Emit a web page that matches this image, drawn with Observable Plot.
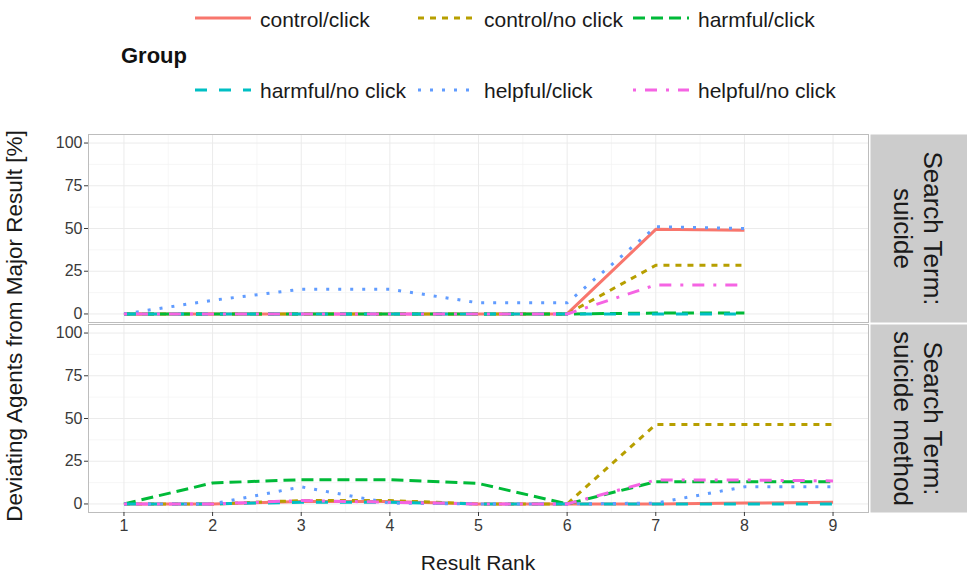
<!DOCTYPE html>
<html><head><meta charset="utf-8">
<script src="https://cdn.jsdelivr.net/npm/d3@7"></script>
<script src="https://cdn.jsdelivr.net/npm/@observablehq/plot@0.6"></script>
<style>
html,body{margin:0;padding:0;background:#fff;overflow:hidden}
#wrap{position:relative;width:967px;height:578px;font-family:"Liberation Sans",Arial,sans-serif}
#overlay{position:absolute;left:0;top:0;pointer-events:none}
</style></head><body>
<div id="wrap"><div id="chart"></div><svg id="overlay" width="967" height="578"></svg></div>
<script>
// ---- data ----
const ranks = [1, 2, 3, 4, 5, 6, 7, 8, 9];
const terms = ["suicide", "suicide method"];
const groups = ["control/click", "control/no click", "harmful/click", "harmful/no click", "helpful/click", "helpful/no click"];
const yTicks = [0, 25, 50, 75, 100];
const xTicks = [1, 2, 3, 4, 5, 6, 7, 8, 9];

// Search Term: suicide (ranks 1-8)
const suicideControlClick    = [0, 0, 0, 0, 0, 0, 49.5, 49];
const suicideControlNoClick  = [0, 0, 0, 0, 0, 0, 28.5, 28.5];
const suicideHarmfulClick    = [0, 0, 0, 0, 0, 0, 0.5, 0.5];
const suicideHarmfulNoClick  = [0, 0, 0, 0, 0, 0, 0, 0];
const suicideHelpfulClick    = [0, 8, 14.5, 14.5, 6.5, 6.5, 51, 50];
const suicideHelpfulNoClick  = [0, 0, 0, 0, 0, 0, 17, 17];

// Search Term: suicide method (ranks 1-9)
const methodControlClick     = [0, 0, 1.5, 1.5, 0, 0, 0, 0.5, 1];
const methodControlNoClick   = [0, 0, 2, 2, 0, 0, 46.5, 46.5, 46.5];
const methodHarmfulClick     = [0, 12.3, 14.2, 14.2, 12, 0, 13, 13, 13];
const methodHarmfulNoClick   = [0, 0, 1, 1, 0, 0, 0, 0, 0];
const methodHelpfulClick     = [0, 0, 10, 0.5, 0, 0, 0.5, 10, 10];
const methodHelpfulNoClick   = [0, 0, 2, 1, 0, 0, 14, 14, 13.5];

// ---- styles ----
const colors = ["#F8766D", "#B79F00", "#00BA38", "#00BFC4", "#619CFF", "#F564E3"];
const dashes = [null, "6,6", "12,6", "12,12", "3,9", "3,9,12,9"];
const LW = 3;

const seriesSuicide = [suicideControlClick, suicideControlNoClick, suicideHarmfulClick, suicideHarmfulNoClick, suicideHelpfulClick, suicideHelpfulNoClick];
const seriesMethod = [methodControlClick, methodControlNoClick, methodHarmfulClick, methodHarmfulNoClick, methodHelpfulClick, methodHelpfulNoClick];

const rows = [];
[[terms[0], seriesSuicide], [terms[1], seriesMethod]].forEach(([term, series]) => {
  series.forEach((vals, gi) => {
    vals.forEach((v, i) => rows.push({term, group: groups[gi], rank: ranks[i], value: v}));
  });
});

const minorX = d3.pairs(xTicks, (a, b) => (a + b) / 2);
const minorY = d3.pairs(yTicks, (a, b) => (a + b) / 2);

const lineMarks = groups.map((g, gi) => Plot.line(rows.filter(d => d.group === g), {
  x: "rank", y: "value", fy: "term", stroke: "group",
  strokeWidth: LW, strokeDasharray: dashes[gi] || undefined,
  strokeLinecap: "butt", strokeLinejoin: "round"
}));

const chart = Plot.plot({
  width: 967, height: 578,
  marginLeft: 88, marginRight: 99, marginTop: 133, marginBottom: 66,
  style: {fontFamily: '"Liberation Sans", Arial, sans-serif', fontSize: "16px", color: "#3a3a3a", background: "white"},
  x: {domain: [0.6, 9.4]},
  y: {domain: [-5, 105]},
  fy: {domain: terms, axis: null, paddingInner: 0.013, paddingOuter: 0},
  color: {domain: groups, range: colors},
  marks: [
    Plot.frame({fill: "#cccccc", stroke: null, insetLeft: 782, insetRight: -99}),
    Plot.gridX(minorX, {stroke: "#f4f4f4", strokeOpacity: 1, strokeWidth: 0.7}),
    Plot.gridY(minorY, {stroke: "#f4f4f4", strokeOpacity: 1, strokeWidth: 0.7}),
    Plot.gridX(xTicks, {stroke: "#ebebeb", strokeOpacity: 1, strokeWidth: 1}),
    Plot.gridY(yTicks, {stroke: "#ebebeb", strokeOpacity: 1, strokeWidth: 1}),
    ...lineMarks,
    Plot.frame({stroke: "#bdbdbd", strokeWidth: 1}),
    Plot.axisX(xTicks, {tickSize: 4, tickPadding: 3, label: null, fontSize: 16}),
    Plot.axisY(yTicks, {tickSize: 4, tickPadding: 2, label: null, fontSize: 16}),
    Plot.text(terms, {fy: d => d, text: d => "Search Term:\n" + d, frameAnchor: "right", dx: 50.5,
      rotate: 90, fontSize: 26, lineHeight: 1.15, fill: "#1a1a1a", textAnchor: "middle", lineAnchor: "middle"})
  ]
});
document.getElementById("chart").appendChild(chart);

// ---- legend and axis titles ----
const ov = d3.select("#overlay").style("font-family", '"Liberation Sans", Arial, sans-serif');
ov.append("text").attr("x", 121).attr("y", 63).attr("font-size", 22).attr("font-weight", "bold")
  .attr("fill", "#111").text("Group");
const keyX = [195, 418, 633], textX = [260, 484, 698], keyY = [18, 90], baseY = [27, 98];
groups.forEach((g, gi) => {
  const r = Math.floor(gi / 3), c = gi % 3;
  ov.append("line").attr("x1", keyX[c]).attr("x2", keyX[c] + 56)
    .attr("y1", keyY[r]).attr("y2", keyY[r])
    .attr("stroke", colors[gi]).attr("stroke-width", LW)
    .attr("stroke-dasharray", dashes[gi]);
  ov.append("text").attr("x", textX[c]).attr("y", baseY[r]).attr("font-size", 21)
    .attr("fill", "#1a1a1a").text(g);
});
ov.append("text").attr("transform", "translate(22,326) rotate(-90)").attr("text-anchor", "middle")
  .attr("font-size", 22.5).attr("fill", "#1a1a1a").text("Deviating Agents from Major Result [%]");
ov.append("text").attr("x", 478).attr("y", 570).attr("text-anchor", "middle")
  .attr("font-size", 21).attr("fill", "#1a1a1a").text("Result Rank");
</script>
</body></html>
